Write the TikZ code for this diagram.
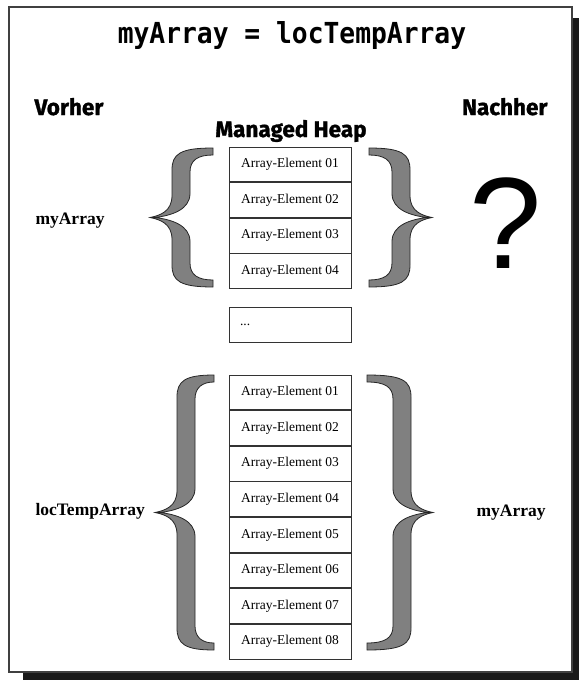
\documentclass[tikz,border=0pt]{standalone}
\usepackage{fontspec}
\setmainfont{Liberation Serif}
\newfontfamily\titlefont{DejaVu Sans Mono}
\newfontfamily\headfont{Fira Sans}[BoldFeatures={FakeBold=1.3}]
\newfontfamily\askfont{Liberation Sans}
\usetikzlibrary{positioning}

\tikzset{
  cell/.style={draw=black!80,line width=0.8pt,minimum width=122pt,minimum height=34.8pt,
    inner sep=0pt,font=\fontsize{13.5}{15}\selectfont},
  head/.style={font=\headfont\bfseries\fontsize{22.5}{26}\selectfont},
  varname/.style={font=\bfseries\fontsize{17.5}{20}\selectfont},
  bracefill/.style={fill=black!50,draw=black!85,line width=0.8pt}
}

% tip x, mid y, direction, width, half height
\newcommand\heapbrace[5]{%
  \begin{scope}[shift={(#1,#2)},xscale=#3]
    \def\bw{#4}\def\bh{#5}
    \filldraw[bracefill] (\bw,-\bh) .. controls (30,-\bh) and (22,-\bh+6) .. (22,-\bh+22)
      -- (22,-22) .. controls (22,-6) and (10,-2) .. (0,0)
      .. controls (10,2) and (22,6) .. (22,22)
      -- (22,\bh-22) .. controls (22,\bh-6) and (30,\bh) .. (\bw,\bh)
      -- (\bw,\bh-7) .. controls (48,\bh-7) and (40,\bh-12) .. (40,\bh-24)
      -- (40,24) .. controls (40,8) and (22,2) .. (5,0)
      .. controls (22,-2) and (40,-8) .. (40,-24)
      -- (40,-\bh+24) .. controls (40,-\bh+12) and (48,-\bh+7) .. (\bw,-\bh+7) -- cycle;
  \end{scope}}

\begin{document}
\begin{tikzpicture}[x=1pt,y=-1pt]
  \useasboundingbox (0,0) rectangle (579,680);
  \fill[black!90] (23,18) rectangle (579,680);
  \filldraw[fill=white,draw=black!75,line width=1.2pt] (9,7) rectangle (572,672);

  \node[anchor=base,yscale=1.1,font=\titlefont\bfseries\fontsize{26.3}{30}\selectfont] (title) at (292,43) {myArray = locTempArray};
  \node[head,anchor=base west] (vorher) at (31,115) {Vorher};
  \node[head,anchor=base east] (nachher) at (551,115) {Nachher};
  \node[head,anchor=base] (heap) at (291,137) {Managed Heap};

  % vorher
  \node[cell] (top1) at (290,164.4) {Array-Element 01};
  \foreach \i [count=\j from 1] in {2,...,4}
    \node[cell,below=0pt of top\j] (top\i) {Array-Element 0\i};
  \node[cell,text width=100pt,align=left] (dots) at (290,324.5) {...};

  % nachher
  \node[cell] (loc1) at (290,392.4) {Array-Element 01};
  \foreach \i [count=\j from 1] in {2,...,8}
    \node[cell,below=0pt of loc\j] (loc\i) {Array-Element 0\i};

  \heapbrace{150}{217.5}{1}{63}{69.5}
  \heapbrace{432}{217.5}{-1}{63}{69.5}
  \heapbrace{155}{512.5}{1}{59}{137.5}
  \heapbrace{433}{512.5}{-1}{66}{137.5}

  \node[varname,anchor=base west] (old) at (32,224) {myArray};
  \node[varname,anchor=base west] (tmp) at (32,515) {locTempArray};
  \node[varname,anchor=base west] (new) at (473,516) {myArray};
  \node[anchor=base,font=\askfont\fontsize{130}{130}\selectfont] (ask) at (506,268) {?};
\end{tikzpicture}
\end{document}
